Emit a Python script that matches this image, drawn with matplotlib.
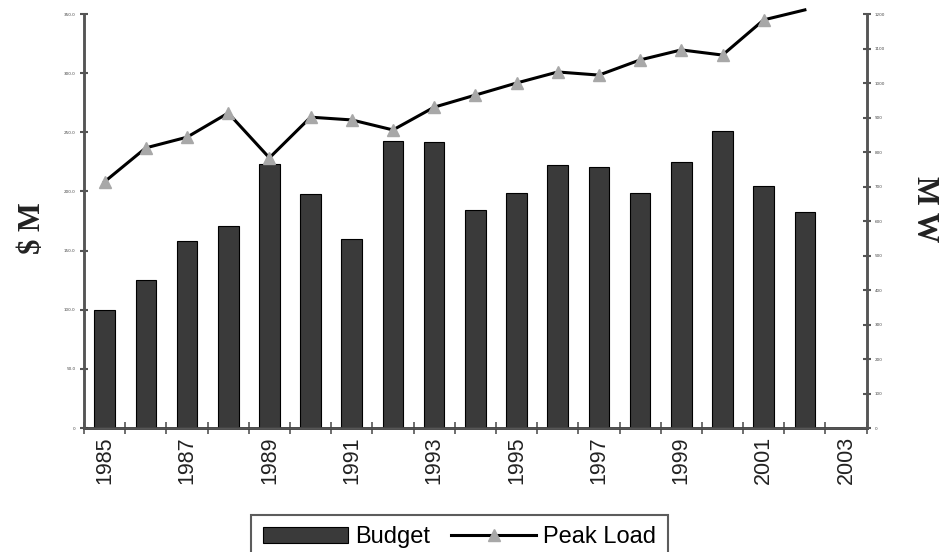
import numpy as np
import matplotlib
matplotlib.use('Agg')
import matplotlib.pyplot as plt
from matplotlib.lines import Line2D
from matplotlib.patches import Patch

years = [str(y) for y in range(1985, 2004)]
budget = [100, 125, 158, 171, 223, 198, 160, 243, 242, 184,
          199, 222, 221, 199, 225, 251, 205, 183]
peak_load = [714, 812, 843, 913, 783, 901, 893, 864, 930, 965,
             1000, 1032, 1023, 1067, 1096, 1081, 1183, 1212]
left_ticks = [0, 50, 100, 150, 200, 250, 300, 350]
right_ticks = list(range(0, 1300, 100))

bar_color = '#3a3a3a'
marker_color = '#a8a8a8'
axis_color = '#555555'

fig = plt.figure(figsize=(9.4, 5.52), dpi=100)
ax = fig.add_axes([0.0894, 0.2246, 0.8326, 0.75])
ax2 = ax.twinx()

x = np.arange(len(years))
ax.bar(x[:len(budget)], budget, width=0.5, color=bar_color,
       edgecolor='black', linewidth=0.8, zorder=2)
ax2.plot(x[:len(peak_load)], peak_load, color='black', lw=2.2,
         marker='^', markersize=9, markerfacecolor=marker_color,
         markeredgecolor=marker_color, markevery=slice(0, -1),
         clip_on=False, zorder=3)

ax.set_xlim(-0.5, len(years) - 0.5)
ax.set_ylim(0, 350)
ax2.set_ylim(0, 1200)

# category boundaries carry the tick marks, labels sit on every other category
ax.set_xticks(np.arange(-0.5, len(years), 1.0))
ax.set_xticklabels([])
ax.set_xticks(x[::2], minor=True)
ax.set_xticklabels(years[::2], minor=True, rotation=90,
                   fontsize=15.5, family='Liberation Sans', color='#222222')
ax.tick_params(axis='x', which='major', direction='inout', length=8,
               width=1.2, color=axis_color)
ax.tick_params(axis='x', which='minor', length=0, pad=6)

ax.set_yticks(left_ticks)
ax.set_yticklabels(['0'] + ['%.1f' % v for v in left_ticks[1:]])
ax.tick_params(axis='y', direction='inout', length=6, width=1.5,
               color=axis_color, labelsize=3, labelcolor='#444444', pad=3)
ax2.set_yticks(right_ticks)
ax2.tick_params(axis='y', direction='inout', length=6, width=1.5,
                color=axis_color, labelsize=3, labelcolor='#444444', pad=3)

for a in (ax, ax2):
    a.spines['top'].set_visible(False)
    for side in ('left', 'right', 'bottom'):
        a.spines[side].set_color(axis_color)
        a.spines[side].set_linewidth(1.8)
ax.spines['bottom'].set_color('black')

fig.text(0.035, 0.587, '$ M', rotation=90, ha='center', va='center',
         fontsize=22, fontweight='bold', family='Liberation Serif',
         color='#222222')
fig.text(0.983, 0.621, 'M W', rotation=270, ha='center', va='center',
         fontsize=22, fontweight='bold', family='Liberation Serif',
         color='#222222')

handles = [Patch(facecolor=bar_color, edgecolor='black', linewidth=0.8),
           Line2D([], [], color='black', lw=2.2, marker='^', markersize=8,
                  markerfacecolor=marker_color, markeredgecolor=marker_color)]
leg = fig.legend(handles, ['Budget', 'Peak Load'], loc='upper center',
                 bbox_to_anchor=(0.489, 0.089), ncol=2, frameon=True,
                 fancybox=False, edgecolor='#333333', handlelength=3.6,
                 handletextpad=0.3, columnspacing=0.9, borderpad=0.5,
                 prop={'family': 'Liberation Sans', 'size': 17})
leg.get_frame().set_linewidth(1.5)

fig.savefig('out.png', dpi=100, facecolor='white')
